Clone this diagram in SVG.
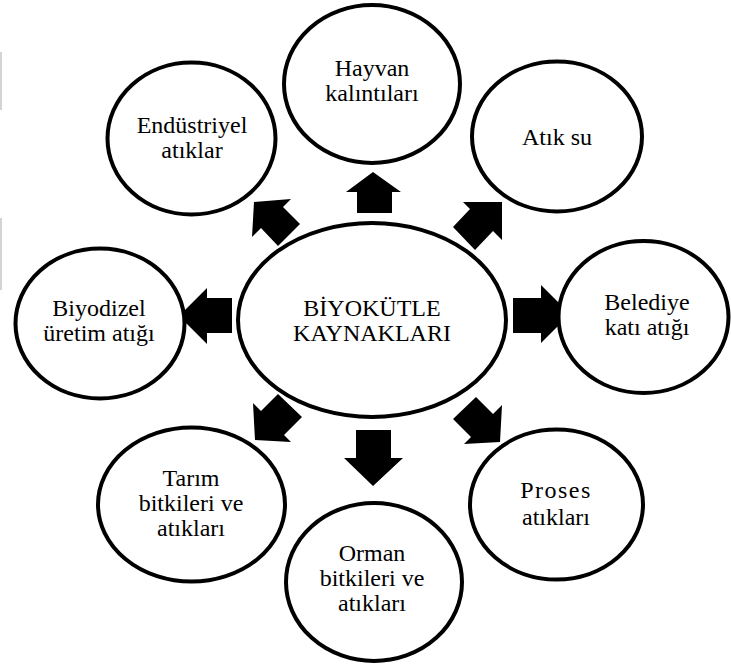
<svg xmlns="http://www.w3.org/2000/svg" width="731" height="664" viewBox="0 0 731 664">
  <style>
    .node { fill: #ffffff; stroke: #000000; stroke-width: 4; }
    .arrow { fill: #000000; stroke: none; }
    .label { font-family: 'Liberation Serif', serif; font-size: 24px; fill: #000000; text-anchor: middle; }
    .edge-mark { fill: #d4d4d4; }
  </style>

  <rect width="731" height="664" fill="#ffffff"/>
  <!-- faint marks along the left border -->
  <rect class="edge-mark" x="0" y="52" width="2" height="58"/>
  <rect class="edge-mark" x="0" y="218" width="2" height="72"/>

  <!-- block arrows radiating from the centre -->
  <g id="connectors">
    <!-- up -->
    <polygon class="arrow" points="373,172 401,192 392,192 392,213 357,213 357,192 346,192"/>
    <!-- down -->
    <polygon class="arrow" points="356,430 391,430 391,458 403,458 373,486 344,458 356,458"/>
    <!-- right -->
    <polygon class="arrow" points="513,298 541,298 541,285 570,314 541,343 541,333 513,333"/>
    <!-- left -->
    <polygon class="arrow" points="232,298 207,298 207,288 179,316 207,344 207,333 232,333"/>
    <!-- upper left -->
    <polygon class="arrow" points="254,202 291,199 283,207 300,224 278,246 261,228 252,237"/>
    <!-- upper right -->
    <polygon class="arrow" points="502,202 502,240 493,231 475,250 453,227 470,209 463,202"/>
    <!-- lower left -->
    <polygon class="arrow" points="255,440 291,442 284,435 302,417 278,394 261,411 253,403"/>
    <!-- lower right -->
    <polygon class="arrow" points="500,442 464,444 471,437 453,419 476,397 493,414 502,405"/>
  </g>

  <g id="center">
    <ellipse class="node" cx="372" cy="320" rx="134" ry="97"/>
    <text class="label" x="372" y="316">BİYOKÜTLE</text>
    <text class="label" x="372" y="341">KAYNAKLARI</text>
  </g>

  <g id="hayvan">
    <ellipse class="node" cx="372" cy="84" rx="88" ry="79"/>
    <text class="label" x="372" y="76">Hayvan</text>
    <text class="label" x="372" y="101">kalıntıları</text>
  </g>

  <g id="endustriyel">
    <ellipse class="node" cx="191.5" cy="138.5" rx="84" ry="76"/>
    <text class="label" x="192" y="133">Endüstriyel</text>
    <text class="label" x="192" y="158">atıklar</text>
  </g>

  <g id="atiksu">
    <ellipse class="node" cx="557" cy="136.5" rx="85" ry="75"/>
    <text class="label" x="557" y="145">Atık su</text>
  </g>

  <g id="belediye">
    <ellipse class="node" cx="643.5" cy="317" rx="85" ry="76"/>
    <text class="label" x="647" y="310">Belediye</text>
    <text class="label" x="647" y="335">katı atığı</text>
  </g>

  <g id="biyodizel">
    <ellipse class="node" cx="100" cy="323.5" rx="84.5" ry="75"/>
    <text class="label" x="99" y="316">Biyodizel</text>
    <text class="label" x="99" y="341">üretim atığı</text>
  </g>

  <g id="tarim">
    <ellipse class="node" cx="191.5" cy="504.5" rx="93.5" ry="77"/>
    <text class="label" x="191" y="486">Tarım</text>
    <text class="label" x="191" y="511">bitkileri ve</text>
    <text class="label" x="191" y="536">atıkları</text>
  </g>

  <g id="orman">
    <ellipse class="node" cx="374" cy="582" rx="88" ry="79"/>
    <text class="label" x="372" y="561">Orman</text>
    <text class="label" x="372" y="586">bitkileri ve</text>
    <text class="label" x="372" y="611">atıkları</text>
  </g>

  <g id="proses">
    <ellipse class="node" cx="556.5" cy="504.5" rx="86.5" ry="75"/>
    <text class="label" x="556" y="498" letter-spacing="1.5">Proses</text>
    <text class="label" x="556" y="525">atıkları</text>
  </g>
</svg>
